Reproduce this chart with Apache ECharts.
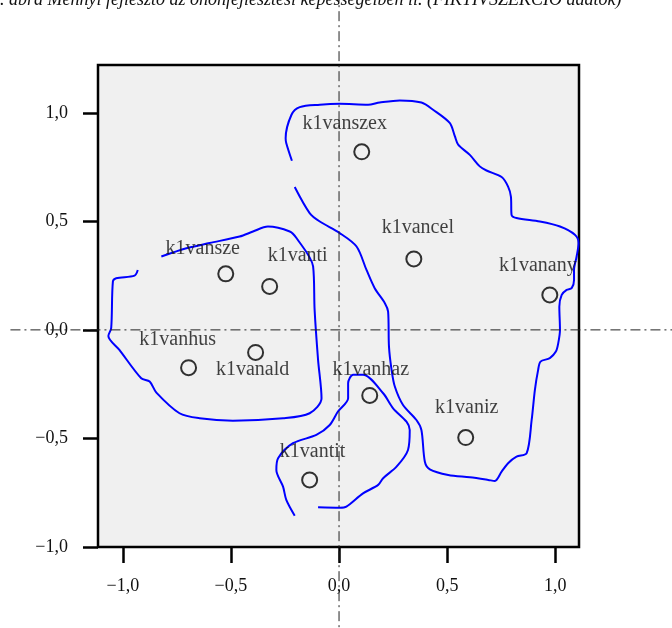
<!DOCTYPE html>
<html>
<head>
<meta charset="utf-8">
<script src="https://cdn.jsdelivr.net/npm/echarts@6/dist/echarts.min.js"></script>
<style>html,body{margin:0;padding:0;background:#fff}#c{width:672px;height:628px}</style>
</head>
<body>
<div id="c"></div>
<script>
// ---- data ----
var titleText = '2. ábra Mennyi fejlesztő az önönfejlesztési képességeiben ii. (FIKTÍVSZEKCIÓ adatok)';
var tickValues = [-1.0, -0.5, 0.0, 0.5, 1.0];
var pointNames = ['k1vanszex','k1vancel','k1vanany','k1vansze','k1vanti','k1vanhus','k1vanald','k1vanhaz','k1vaniz','k1vantit'];
var pointX = [0.105, 0.346, 0.975, -0.524, -0.321, -0.696, -0.386, 0.142, 0.586, -0.136];
var pointY = [0.820, 0.327, 0.161, 0.258, 0.200, -0.174, -0.104, -0.302, -0.496, -0.691];
var curveLeft = [[-0.931,0.276],[-0.946,0.250],[-1.031,0.238],[-1.046,0.223],[-1.054,0.008],[-1.067,-0.028],[-1.016,-0.092],[-0.915,-0.223],[-0.876,-0.238],[-0.845,-0.289],[-0.738,-0.384],[-0.645,-0.407],[-0.491,-0.418],[-0.259,-0.407],[-0.136,-0.384],[-0.081,-0.315],[-0.097,-0.138],[-0.113,0.092],[-0.120,0.292],[-0.197,0.423],[-0.228,0.453],[-0.329,0.476],[-0.398,0.453],[-0.460,0.430],[-0.599,0.400],[-0.706,0.376],[-0.822,0.338]];
var curveRight = [[-0.205,0.658],[-0.136,0.538],[-0.089,0.499],[0.003,0.446],[0.081,0.384],[0.127,0.276],[0.165,0.192],[0.212,0.123],[0.227,0.084],[0.231,-0.077],[0.243,-0.184],[0.258,-0.261],[0.296,-0.346],[0.358,-0.415],[0.381,-0.461],[0.397,-0.607],[0.420,-0.642],[0.505,-0.668],[0.605,-0.679],[0.690,-0.691],[0.721,-0.696],[0.752,-0.653],[0.782,-0.614],[0.821,-0.584],[0.868,-0.568],[0.891,-0.415],[0.906,-0.276],[0.921,-0.184],[0.932,-0.146],[0.975,-0.130],[1.003,-0.100],[1.014,-0.061],[1.022,0.000],[1.019,0.107],[1.030,0.161],[1.053,0.184],[1.076,0.192],[1.087,0.230],[1.087,0.276],[1.099,0.338],[1.108,0.400],[1.091,0.438],[1.022,0.476],[0.929,0.499],[0.821,0.515],[0.798,0.530],[0.795,0.614],[0.782,0.660],[0.752,0.704],[0.682,0.734],[0.651,0.753],[0.605,0.806],[0.551,0.853],[0.536,0.891],[0.512,0.953],[0.435,1.014],[0.381,1.047],[0.281,1.057],[0.188,1.047],[0.134,1.037],[0.003,1.041],[-0.089,1.037],[-0.182,1.026],[-0.220,0.991],[-0.247,0.883],[-0.244,0.860],[-0.218,0.779]];
var curveBottom = [[-0.205,-0.856],[-0.244,-0.783],[-0.259,-0.722],[-0.290,-0.645],[-0.282,-0.591],[-0.213,-0.522],[-0.105,-0.484],[-0.043,-0.438],[-0.005,-0.376],[0.042,-0.315],[0.042,-0.246],[0.065,-0.207],[0.111,-0.207],[0.204,-0.292],[0.250,-0.361],[0.312,-0.423],[0.327,-0.461],[0.319,-0.553],[0.266,-0.630],[0.204,-0.683],[0.181,-0.714],[0.111,-0.753],[0.034,-0.814],[0.003,-0.819],[-0.097,-0.817]];
var refVertical = [[0, 1.56], [0, -1.42]];
var refHorizontal = [[-1.52, 0], [1.6, 0]];

// ---- style (label offsets in px) ----
var labelOffsets = [[-17,-28],[4,-31],[-12,-29],[-23,-25],[28,-31],[-11,-28],[-3,17],[1,-26],[1,-30],[3,-28]];

var SERIF = '"Liberation Serif","Times New Roman",serif';
function fmt(v){ var s = Math.abs(v).toFixed(1).replace('.', ','); return (v < -1e-9 ? '\u2212' : '') + s; }

var pts = pointNames.map(function(n,i){
  return {value:[pointX[i], pointY[i]], name:n, label:{offset:labelOffsets[i]}};
});

var curveStyle = {color:'#0000ff', width:2};
function curve(d){ return {type:'line', data:d, showSymbol:false, symbol:'none', smooth:0.3, lineStyle:curveStyle, z:3, silent:true, animation:false}; }

var chart = echarts.init(document.getElementById('c'), null, {renderer:'canvas'});
chart.setOption({
  animation:false,
  backgroundColor:'#ffffff',
  title:{text:titleText, left:-14, top:-14, textStyle:{fontFamily:SERIF, fontStyle:'italic', fontWeight:'normal', fontSize:18, color:'#111'}},
  grid:{left:98, right:93, top:65, bottom:81, show:true, backgroundColor:'#f0f0f0', borderColor:'#000', borderWidth:2.5},
  xAxis:{type:'value', min:-1.115, max:1.11,
    axisLine:{show:false, onZero:false}, splitLine:{show:false},
    axisTick:{show:true, length:16, lineStyle:{color:'#000', width:2.5}, customValues:tickValues},
    axisLabel:{customValues:tickValues, formatter:fmt, margin:30, fontFamily:SERIF, fontSize:18, color:'#111'}},
  yAxis:{type:'value', min:-1.0, max:1.22,
    axisLine:{show:false, onZero:false}, splitLine:{show:false},
    axisTick:{show:true, length:15, lineStyle:{color:'#000', width:2.5}, customValues:tickValues},
    axisLabel:{customValues:tickValues, formatter:fmt, margin:30, fontFamily:SERIF, fontSize:18, color:'#111'}},
  series:[
    curve(curveLeft), curve(curveRight), curve(curveBottom),
    {type:'scatter', data:pts, symbol:'circle', symbolSize:15, z:5,
      itemStyle:{color:'rgba(0,0,0,0)', borderColor:'#000', borderWidth:2},
      label:{show:true, position:'inside', formatter:'{b}', fontFamily:SERIF, fontSize:20, color:'#111'},
      animation:false}
  ]
});

// reference lines through the origin, placed via the chart's own scales
function refLine(d){
  var a = chart.convertToPixel({gridIndex:0}, d[0]);
  var b = chart.convertToPixel({gridIndex:0}, d[1]);
  return {type:'line', silent:true, z:4,
    shape:{x1:a[0], y1:a[1], x2:b[0], y2:b[1]},
    style:{stroke:'#222', lineWidth:1, lineDash:[10,4,2,4]}};
}
chart.setOption({graphic:[refLine(refVertical), refLine(refHorizontal)]});
</script>
</body>
</html>
